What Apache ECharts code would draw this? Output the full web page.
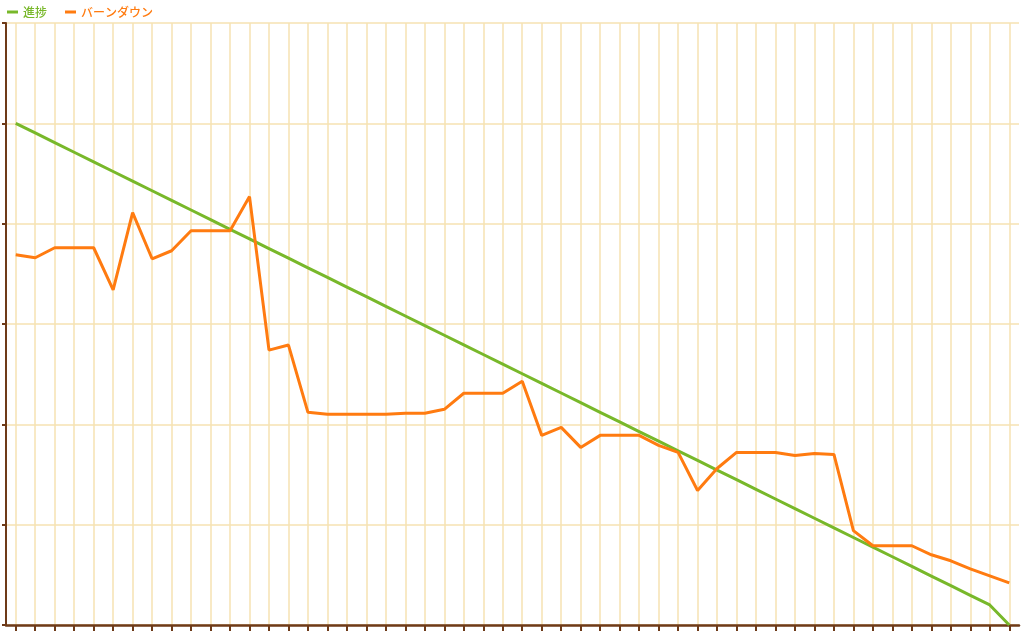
<!DOCTYPE html>
<html>
<head>
<meta charset="utf-8">
<script src="https://cdn.jsdelivr.net/npm/echarts@6/dist/echarts.min.js"></script>
<style>
html,body{margin:0;padding:0;background:#fff;}
#chart{width:1036px;height:634px;}
</style>
</head>
<body>
<div id="chart"></div>
<script>
const categories = Array.from({length: 52}, (_, i) => String(i + 1));
const seriesNames = ['進捗', 'バーンダウン'];
const progress = [50, 49.04, 48.08, 47.12, 46.16, 45.2, 44.24, 43.28, 42.32, 41.36, 40.4, 39.44, 38.48, 37.52, 36.56, 35.6, 34.64, 33.68, 32.72, 31.76, 30.8, 29.84, 28.88, 27.92, 26.96, 26, 25.04, 24.08, 23.12, 22.16, 21.2, 20.24, 19.28, 18.32, 17.36, 16.4, 15.44, 14.48, 13.52, 12.56, 11.6, 10.64, 9.68, 8.72, 7.76, 6.8, 5.84, 4.88, 3.92, 2.96, 2.0, 0];
const burndown = [36.9, 36.6, 37.6, 37.6, 37.6, 33.4, 41.1, 36.5, 37.3, 39.3, 39.3, 39.3, 42.7, 27.4, 27.9, 21.2, 21.0, 21.0, 21.0, 21.0, 21.1, 21.1, 21.5, 23.1, 23.1, 23.1, 24.3, 18.9, 19.7, 17.7, 18.9, 18.9, 18.9, 17.9, 17.2, 13.4, 15.6, 17.2, 17.2, 17.2, 16.9, 17.1, 17.0, 9.4, 7.9, 7.9, 7.9, 7.0, 6.4, 5.6, 4.9, 4.2];

const GREEN = '#78b82a';
const ORANGE = '#ff7b10';
const BROWN = '#6e3a18';
const GRID = '#f6e2b2';

const chart = echarts.init(document.getElementById('chart'));
chart.setOption({
  animation: false,
  backgroundColor: '#ffffff',
  legend: {
    left: 2, top: 1,
    icon: 'rect', itemWidth: 11, itemHeight: 3, itemGap: 18,
    textStyle: { fontFamily: 'Noto Sans CJK JP', fontSize: 12, fontWeight: 500 },
    data: [
      { name: seriesNames[0], textStyle: { color: GREEN } },
      { name: seriesNames[1], textStyle: { color: ORANGE } }
    ]
  },
  grid: { left: 6, right: 17, top: 23, bottom: 9, containLabel: false },
  xAxis: {
    type: 'category',
    data: categories,
    boundaryGap: true,
    axisLine: { lineStyle: { color: BROWN, width: 2.5 } },
    axisTick: { show: true, interval: 0, alignWithLabel: true, length: 6, lineStyle: { color: BROWN, width: 2 } },
    axisLabel: { show: false, interval: 0 },
    splitLine: { show: true, interval: 0, alignWithLabel: true, lineStyle: { color: GRID, width: 1.5 } }
  },
  yAxis: {
    type: 'value',
    min: 0, max: 60, interval: 10,
    axisLine: { show: true, lineStyle: { color: BROWN, width: 2 } },
    axisTick: { show: true, length: 4, lineStyle: { color: BROWN, width: 2 } },
    axisLabel: { show: false },
    splitLine: { show: true, lineStyle: { color: GRID, width: 1.5 } }
  },
  series: [
    { name: seriesNames[0], type: 'line', data: progress, showSymbol: false, symbol: 'none',
      lineStyle: { color: GREEN, width: 3 }, itemStyle: { color: GREEN } },
    { name: seriesNames[1], type: 'line', data: burndown, showSymbol: false, symbol: 'none',
      lineStyle: { color: ORANGE, width: 3 }, itemStyle: { color: ORANGE } }
  ]
});
</script>
</body>
</html>
